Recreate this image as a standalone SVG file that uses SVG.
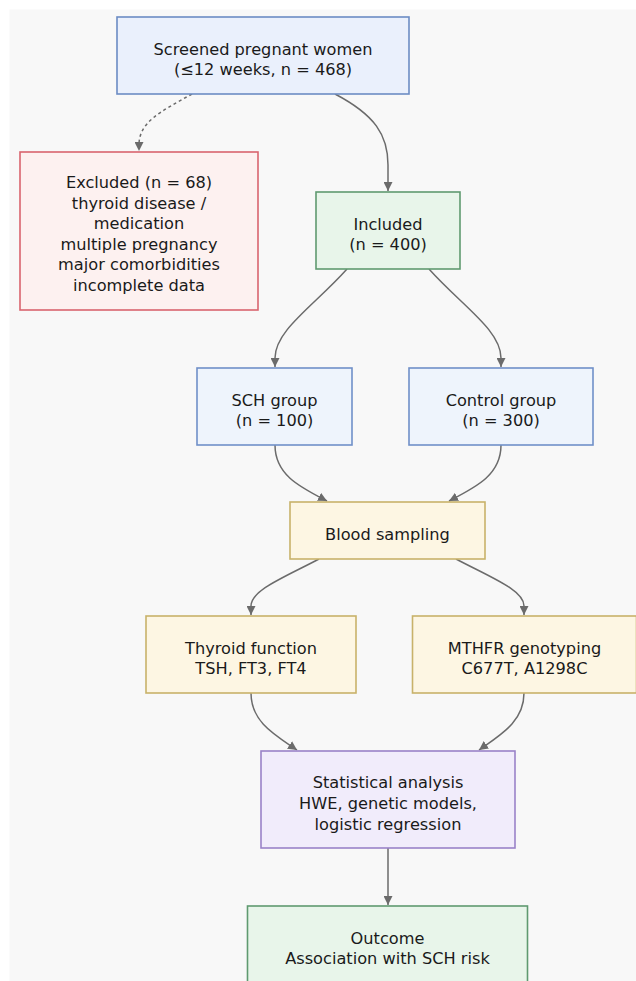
<svg xmlns="http://www.w3.org/2000/svg" width="636" height="981" viewBox="0 0 636 981">
<style>
.node rect{stroke-width:1.6}
.node text{font-family:"DejaVu Sans","Verdana",sans-serif;font-size:16.2px;fill:#1a1a1a;text-anchor:middle}
.blue rect{fill:#eaf0fc;stroke:#6c8cc4}
.blue2 rect{fill:#eef4fc;stroke:#7090c8}
.red rect{fill:#fdf1f0;stroke:#d9646e}
.green rect{fill:#e8f5ea;stroke:#5f9a70}
.tan rect{fill:#fdf6e3;stroke:#c8b26a}
.purple rect{fill:#f1ecfb;stroke:#9a82c8}
.edges path{fill:none;stroke:#6b6b6b;stroke-width:1.5}
.edges path.dash{stroke-dasharray:3 3}
</style>
<defs>
<marker id="arr" viewBox="0 0 10 10" refX="10" refY="5" markerUnits="userSpaceOnUse" markerWidth="9" markerHeight="9" orient="auto">
<path d="M0,0 L10,5 L0,10 z" fill="#6b6b6b"/>
</marker>
</defs>
<rect x="0" y="0" width="636" height="981" fill="#ffffff"/>
<rect x="9.5" y="9.5" width="627" height="972" fill="#f8f8f8"/>
<g class="edges">
<path class="dash" d="M192,94 C160,112 139,122 139,145 L139,151" marker-end="url(#arr)"/>
<path d="M335,94 C375,115 388,135 388,165 L388,191" marker-end="url(#arr)"/>
<path d="M347,269 C315,305 275,330 275,358 L275,367" marker-end="url(#arr)"/>
<path d="M429,269 C461,305 501,330 501,358 L501,367" marker-end="url(#arr)"/>
<path d="M275,445 C275,475 300,487 327,501" marker-end="url(#arr)"/>
<path d="M501,445 C501,475 476,487 449,501" marker-end="url(#arr)"/>
<path d="M319,559 C285,577 251,590 251,606 L251,615" marker-end="url(#arr)"/>
<path d="M456,559 C490,577 524,590 524,606 L524,615" marker-end="url(#arr)"/>
<path d="M251,693 C251,722 275,735 297,750" marker-end="url(#arr)"/>
<path d="M524,693 C524,722 500,735 479,750" marker-end="url(#arr)"/>
<path d="M388,848 L388,905" marker-end="url(#arr)"/>
</g>
<g id="screened" class="node blue">
<rect x="117" y="17" width="292" height="77"/>
<text x="263" y="54.7">Screened pregnant women</text>
<text x="263" y="75.3">(≤12 weeks, n = 468)</text>
</g>
<g id="excluded" class="node red">
<rect x="20" y="152" width="238" height="158"/>
<text x="139" y="188">Excluded (n = 68)</text>
<text x="139" y="208.5">thyroid disease /</text>
<text x="139" y="229">medication</text>
<text x="139" y="249.5">multiple pregnancy</text>
<text x="139" y="270">major comorbidities</text>
<text x="139" y="290.5">incomplete data</text>
</g>
<g id="included" class="node green">
<rect x="316" y="192" width="144" height="77"/>
<text x="388" y="229.7">Included</text>
<text x="388" y="250.3">(n = 400)</text>
</g>
<g id="sch" class="node blue2">
<rect x="197" y="368" width="155" height="77"/>
<text x="274.5" y="405.7">SCH group</text>
<text x="274.5" y="426.3">(n = 100)</text>
</g>
<g id="control" class="node blue2">
<rect x="409" y="368" width="184" height="77"/>
<text x="501" y="405.7">Control group</text>
<text x="501" y="426.3">(n = 300)</text>
</g>
<g id="blood" class="node tan">
<rect x="290" y="502" width="195" height="57"/>
<text x="387.5" y="540">Blood sampling</text>
</g>
<g id="thyroid" class="node tan">
<rect x="146" y="616" width="210" height="77"/>
<text x="251" y="653.7">Thyroid function</text>
<text x="251" y="674.3">TSH, FT3, FT4</text>
</g>
<g id="mthfr" class="node tan">
<rect x="412.5" y="616" width="224" height="77"/>
<text x="524.5" y="653.7">MTHFR genotyping</text>
<text x="524.5" y="674.3">C677T, A1298C</text>
</g>
<g id="stat" class="node purple">
<rect x="261" y="751" width="254" height="97"/>
<text x="388" y="788.4">Statistical analysis</text>
<text x="388" y="809">HWE, genetic models,</text>
<text x="388" y="829.6">logistic regression</text>
</g>
<g id="outcome" class="node green">
<rect x="247.5" y="906" width="280" height="78"/>
<text x="387.5" y="943.7">Outcome</text>
<text x="387.5" y="964.3">Association with SCH risk</text>
</g>
</svg>
